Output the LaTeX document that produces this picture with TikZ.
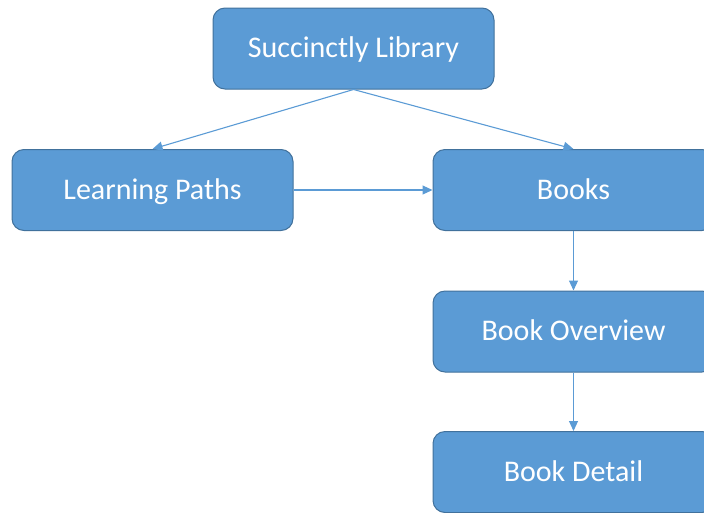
\documentclass[tikz,border=0pt]{standalone}
\usepackage{fontspec}
\setmainfont{Carlito}
\usetikzlibrary{arrows.meta}
\definecolor{boxfill}{HTML}{5B9BD5}
\definecolor{boxline}{HTML}{41719C}
\definecolor{arrowc}{HTML}{5B9BD5}
\tikzset{
  box/.style={draw=boxline, line width=1pt, fill=boxfill, rounded corners=12pt,
    minimum width=281pt, minimum height=81pt, inner sep=0pt,
    text height=22pt, text depth=4pt,
    text=white, font=\fontsize{30}{34}\selectfont},
  conn/.style={draw=arrowc, line width=1.1pt, -{Triangle[length=10pt,width=9pt]}}
}
\begin{document}
\begin{tikzpicture}[x=1pt,y=-1pt]
\useasboundingbox (0,0) rectangle (704,512);
\clip (0,0) rectangle (704,512);
\node[box] (lib) at (353.5,48.5) {Succinctly Library};
\node[box] (lp) at (152.5,190) {Learning Paths};
\node[box] (books) at (573.5,190) {Books};
\node[box] (ov) at (573.5,331.5) {Book Overview};
\node[box] (det) at (573.5,472) {Book Detail};
\draw[conn] (lib.south) -- (lp.north);
\draw[conn] (lib.south) -- (books.north);
\draw[conn] (lp.east) -- (books.west);
\draw[conn] (books.south) -- (ov.north);
\draw[conn] (ov.south) -- (det.north);
\end{tikzpicture}
\end{document}
